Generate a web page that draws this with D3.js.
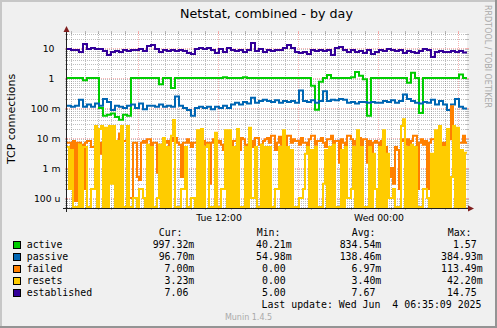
<!DOCTYPE html>
<html><head><meta charset="utf-8">
<script src="https://cdn.jsdelivr.net/npm/d3@7"></script>
<style>html,body{margin:0;padding:0;background:#F0F0F0}svg{display:block}</style>
</head><body><svg id="c" width="497" height="328"></svg>
<script>
const title = "Netstat, combined - by day";
const yTitle = "TCP connections";
const watermark = "RRDTOOL / TOBI OETIKER";
const footer = "Munin 1.4.5";
const lastUpdate = "Last update: Wed Jun  4 06:35:09 2025";
const seriesNames = ["active", "passive", "failed", "resets", "established"];
const seriesColors = ["#00CC00", "#0066B3", "#FF8000", "#FFCC00", "#330099"];
const colHeaders = ["Cur:", "Min:", "Avg:", "Max:"];
const curText = ["997.32m", "96.70m", "7.00m", "3.23m", "7.06"];
const minText = ["40.21m", "54.98m", "0.00", "0.00", "5.00"];
const avgText = ["834.54m", "138.46m", "6.97m", "3.40m", "7.67"];
const maxText = ["1.57", "384.93m", "113.49m", "42.20m", "14.75"];
const yTickValues = [1e-4, 1e-3, 1e-2, 1e-1, 1, 10];
const yTickLabels = ["100 u", "1 m", "10 m", "100 m", "1", "10"];
const xLabelTimes = [new Date(2025, 5, 3, 12, 0), new Date(2025, 5, 4, 0, 0)];
const xTickLabels = ["Tue 12:00", "Wed 00:00"];
const startTime = new Date(2025, 5, 3, 0, 40, 30);
const endTime = new Date(2025, 5, 4, 6, 40, 30);
const yMin = Math.pow(10, -13 / 3), yMax = Math.pow(10, 1.5);

// 100 samples over the 30 h window
const active = [1,1,1,1,0.84,1,1,1,0.1,0.055,
 0.06,0.065,0.05,0.0402,0.06,0.055,1,1,1,1,
 1,1,1,0.62,1,1,0.46,1,1,1,
 1,1,1,1,1,1,1,1,1,1.05,
 1,1,1,1,1.05,1,1,1,1,1,
 1,1,1,1,1,1,1,1,1,1,
 1,0.55,0.088,0.75,1,1.25,1,1,1,1,
 1,1.05,1.57,1.2,0.9,0.055,1,1,1,1,
 1,1,1,1,1,0.7,1.5,1,0.068,1,
 1,1,1,1,1,1,1,1,1.3,0.997];
const passive = [0.12,0.11,0.12,0.19,0.11,0.13,0.11,0.14,0.12,0.2,
 0.16,0.085,0.12,0.11,0.1,0.12,0.13,0.1,0.14,0.09,
 0.12,0.12,0.11,0.13,0.11,0.12,0.11,0.24,0.12,0.1,
 0.085,0.055,0.1,0.11,0.1,0.11,0.09,0.11,0.1,0.12,
 0.1,0.13,0.15,0.13,0.16,0.14,0.22,0.15,0.17,0.19,
 0.17,0.16,0.18,0.15,0.17,0.16,0.17,0.15,0.385,0.17,
 0.16,0.18,0.15,0.17,0.36,0.17,0.19,0.18,0.2,0.19,
 0.15,0.16,0.14,0.16,0.16,0.15,0.16,0.15,0.15,0.17,
 0.16,0.18,0.15,0.17,0.28,0.2,0.17,0.15,0.14,0.16,
 0.15,0.19,0.13,0.17,0.13,0.085,0.13,0.2,0.11,0.0967];
const established = [9.3,8.6,8.6,7.4,13.6,9.3,10,9.3,9.3,8,
 5.8,7.4,7.9,7.4,8.6,7.9,8.6,8.6,9.3,7.9,
 11.7,12.6,9.3,7.4,8.6,7.9,8.6,7.9,8.6,7.9,
 6.8,6.3,9.3,10,9.3,10,8.6,6.8,9.3,7.4,
 10,8.6,7.9,8.6,7.4,8.6,14.75,7.9,9.3,7.4,
 8.6,7.9,8.6,8.6,10,12.6,10,7.4,6.8,7.4,
 6.3,8.6,7.9,8.6,7.9,8.6,5.8,10,10.8,8.6,
 7.4,8.6,7.4,7.9,6.8,8.6,6.3,7.4,8.6,7.9,
 9.3,8.6,7.9,8.6,6.8,7.9,7.4,6.8,7.9,9.3,
 8.6,5,7.4,7.9,7.4,7.4,7.9,7.4,7.9,7.06];
// 200 samples over the 30 h window
const failed = [7e-3,7e-3,4e-3,8e-3,8e-5,7e-3,7e-3,6e-3,2e-4,7e-3,
 8e-3,8e-3,5e-3,5e-3,0.01,7e-3,7e-3,3e-3,3e-3,7e-3,
 0.01,0.01,7e-3,9e-3,5e-3,5e-3,0.014,0.014,8e-3,8e-3,
 0.012,1e-4,1e-4,7e-3,7e-3,5e-4,4e-4,7e-3,8e-3,7e-3,
 9e-3,9e-3,5e-3,7e-3,7e-3,7e-4,6e-3,6e-3,4e-4,7e-3,
 8e-3,3e-4,8e-3,0.01,0.01,7e-3,6e-3,5e-4,7e-3,7e-3,
 9e-3,7e-3,5e-3,7e-3,7e-3,6e-3,5e-4,5e-4,8e-3,6e-3,
 7e-3,3e-4,7e-3,9e-3,4e-4,7e-3,8e-3,6e-3,4e-3,7e-3,
 0.01,7e-3,5e-3,8e-3,8e-3,7e-3,4e-3,0.01,9e-3,6e-3,
 3e-3,8e-3,8e-3,5e-3,0.01,0.01,6e-3,1e-3,8e-3,9e-3,
 0.01,7e-3,0.012,0.012,4e-3,7e-3,0.011,6e-3,9e-3,5e-3,
 0.012,0.012,7e-3,9e-3,8e-3,8e-3,6e-3,0.01,7e-3,7e-3,
 5e-3,9e-3,0.012,0.012,6e-3,8e-3,8e-3,0.01,7e-3,5e-3,
 9e-3,9e-3,0.012,6e-3,8e-3,8e-3,1.5e-3,9e-3,7e-3,3e-4,
 0.012,0.012,9e-3,6e-3,8e-3,8e-3,0.01,5e-3,9e-3,9e-3,
 1.5e-3,8e-3,8e-4,7e-3,8e-3,7e-3,3e-4,8e-3,9e-3,5e-3,
 2e-3,5e-4,1e-3,3e-4,5e-3,4e-3,2e-4,8e-3,9e-3,6e-3,
 9e-3,6e-4,8e-3,0.012,0.012,2e-4,7e-3,9e-3,6e-3,8e-3,
 2e-4,7e-3,9e-3,9e-3,6e-3,8e-3,8e-3,7e-3,5e-4,7e-3,
 9e-3,9e-3,0.11349,4e-3,9e-3,5e-4,7e-3,7e-3,0.012,7e-3];
const resets = [5e-3,2e-4,4e-3,0,0,0,6e-3,0,5e-3,5e-3,
 0,0,2e-4,2e-4,0.025,0,0.02,0.025,0,0.022,
 0,0.025,3e-4,0.025,0,8e-3,0,0.025,0,0,
 0.025,0,0,1e-4,1e-4,0,2e-4,2e-4,1e-4,0,
 6e-3,0,5e-3,0,0,1e-4,6e-3,0,0.01,0,
 5e-3,0,0.012,0.04,0,0,0,2e-4,2e-4,5e-3,
 0,0,1e-4,1e-4,0,0.018,0,0.02,0,5e-3,
 6e-3,0,0,0,0.015,0,0,2e-4,2e-4,0.018,
 0,0.018,0,5e-3,0,0.02,0,0,0,5e-3,
 0,0.022,1e-4,1e-4,5e-3,0,0,6e-3,0,5e-3,
 0,5e-3,0,0,2e-4,2e-4,5e-3,0,0.018,0,
 5e-3,0,4e-3,0,0,0,1e-4,1e-4,2e-4,3e-3,
 5e-3,0,4e-3,0,5e-3,0,0,0,3e-4,4e-3,
 0,5e-3,0,6e-3,0,0,0,4e-3,0,5e-3,
 1e-4,1e-4,2e-4,5e-3,0,0.018,0,5e-3,0,0,
 0,5e-3,0,3e-3,2e-4,0,5e-3,0,0.018,0,
 3e-3,1e-4,1e-4,2e-4,0,0,0,0.025,0.0422,0,
 5e-3,0,6e-3,0,5e-3,0,0,0,2e-4,2e-4,
 1e-4,0,3e-3,0,0.018,0,0.025,0,5e-3,0,
 0.02,0,5e-4,0.025,0,0.022,0,4e-3,0,3.23e-3];

const seriesData = [active, passive, failed, resets, established];

const W = 497, H = 328, L = 67, R = 467, T = 33, B = 208;
const svg = d3.select("#c");
const sans = "'DejaVu Sans', sans-serif";
const mono = "'DejaVu Sans Mono', monospace";

svg.append("rect").attr("width", W).attr("height", H).attr("fill", "#F0F0F0");
svg.append("rect").attr("x", 0).attr("y", 0).attr("width", W).attr("height", 2).attr("fill", "#C7C7C7");
svg.append("rect").attr("x", 0).attr("y", 0).attr("width", 2).attr("height", H).attr("fill", "#C7C7C7");
svg.append("rect").attr("x", 0).attr("y", H - 2).attr("width", W).attr("height", 2).attr("fill", "#949494");
svg.append("rect").attr("x", W - 2).attr("y", 0).attr("width", 2).attr("height", H).attr("fill", "#949494");
svg.append("rect").attr("x", L).attr("y", T).attr("width", R - L).attr("height", B - T).attr("fill", "#FFFFFF");

const x = d3.scaleTime().domain([startTime, endTime]).range([L, R]);
const y = d3.scaleLog().domain([yMin, yMax]).range([B, T]).clamp(true);
const yPos = v => (v > 0 ? y(v) : B - 1);

const gridMinor = "rgba(128,128,128,0.5)";
const gridMajor = "rgba(245,128,128,0.6)";
const g = svg.append("g");

// horizontal grid
const minorY = [];
for (let d = -5; d <= 1; d++) for (let k = 2; k <= 9; k++) {
  const v = k * Math.pow(10, d);
  if (v > yMin && v < yMax) minorY.push(v);
}
minorY.forEach(v => {
  const yy = Math.round(y(v)) + 0.5;
  g.append("line").attr("x1", L).attr("x2", R).attr("y1", yy).attr("y2", yy)
    .attr("stroke", gridMinor).attr("stroke-dasharray", "1,1");
  g.append("line").attr("x1", L - 2).attr("x2", L + 1).attr("y1", yy).attr("y2", yy).attr("stroke", gridMinor);
  g.append("line").attr("x1", R - 1).attr("x2", R + 2).attr("y1", yy).attr("y2", yy).attr("stroke", gridMinor);
});
yTickValues.forEach(v => {
  const yy = Math.round(y(v)) + 0.5;
  g.append("line").attr("x1", L).attr("x2", R).attr("y1", yy).attr("y2", yy)
    .attr("stroke", gridMajor).attr("stroke-dasharray", "1,1");
  g.append("line").attr("x1", L - 2).attr("x2", L + 1).attr("y1", yy).attr("y2", yy).attr("stroke", gridMajor);
  g.append("line").attr("x1", R - 1).attr("x2", R + 2).attr("y1", yy).attr("y2", yy).attr("stroke", gridMajor);
});
// vertical grid
const hours = d3.timeHour.range(d3.timeHour.ceil(startTime), endTime);
hours.forEach(h => {
  const major = h.getHours() % 6 === 0;
  const col = major ? gridMajor : gridMinor;
  const xx = Math.round(x(h)) + 0.5;
  g.append("line").attr("x1", xx).attr("x2", xx).attr("y1", T).attr("y2", B)
    .attr("stroke", col).attr("stroke-dasharray", "1,1");
  g.append("line").attr("x1", xx).attr("x2", xx).attr("y1", B - 1).attr("y2", B + 2).attr("stroke", col);
  g.append("line").attr("x1", xx).attr("x2", xx).attr("y1", T - 2).attr("y2", T + 1).attr("stroke", col);
});

// series lines
svg.append("clipPath").attr("id", "clip").append("rect")
  .attr("x", L).attr("y", T).attr("width", R - L).attr("height", B - T);
const lines = svg.append("g").attr("clip-path", "url(#clip)");
seriesData.forEach((vals, si) => {
  const n = vals.length;
  const dt = (endTime - startTime) / n;
  const pts = vals.map((v, i) => [new Date(+startTime + i * dt), v]);
  pts.push([endTime, vals[n - 1]]);
  const line = d3.line().x(d => x(d[0])).y(d => yPos(d[1])).curve(d3.curveStepAfter);
  lines.append("path").attr("d", line(pts)).attr("fill", "none")
    .attr("stroke", seriesColors[si]).attr("stroke-width", 2);
});

// axes
svg.append("line").attr("x1", L - 4).attr("x2", R + 4).attr("y1", B + 0.5).attr("y2", B + 0.5).attr("stroke", "#1F1F1F");
svg.append("line").attr("x1", L - 0.5).attr("x2", L - 0.5).attr("y1", B + 4).attr("y2", T - 4).attr("stroke", "#1F1F1F");
svg.append("path").attr("d", `M${L - 0.5},${T - 7} L${L - 3.5},${T - 1} L${L + 2.5},${T - 1} Z`).attr("fill", "#801F1F");
svg.append("path").attr("d", `M${R + 7},${B + 0.5} L${R + 1},${B - 2.5} L${R + 1},${B + 3.5} Z`).attr("fill", "#801F1F");

// y tick labels
yTickValues.forEach((v, i) => {
  const lab = yTickLabels[i];
  const hasUnit = /[a-z]$/.test(lab);
  svg.append("text").attr("x", hasUnit ? 60.5 : 54.5).attr("y", Math.round(y(v)) + 3.5)
    .attr("text-anchor", "end").attr("font-family", sans).attr("font-size", "9.3px").attr("fill", "#000")
    .text(lab);
});
// x tick labels
xLabelTimes.forEach((t, i) => {
  svg.append("text").attr("x", x(t) + 1).attr("y", 221).attr("text-anchor", "middle")
    .attr("font-family", sans).attr("font-size", "9.3px").attr("fill", "#000").text(xTickLabels[i]);
});

// titles
svg.append("text").attr("x", 266.5).attr("y", 18).attr("text-anchor", "middle")
  .attr("font-family", sans).attr("font-size", "12.7px").attr("fill", "#000").text(title);
svg.append("text").attr("transform", "translate(15,119) rotate(-90)").attr("text-anchor", "middle")
  .attr("font-family", sans).attr("font-size", "11px").attr("fill", "#000").text(yTitle);
svg.append("text").attr("transform", "translate(485,5) rotate(90)").attr("text-anchor", "start")
  .attr("font-family", sans).attr("font-size", "8px").attr("fill", "#AAAAAA").text(watermark);

// legend
const headX = [158.7, 256.7, 351.7, 447.7];
const colRight = [194.3, 291.7, 381.3, 482.7];
const charW = 5.96;
colHeaders.forEach((h, i) => {
  svg.append("text").attr("x", headX[i]).attr("y", 236).attr("font-family", mono)
    .attr("font-size", "9.9px").attr("fill", "#000").text(h);
});
const cols = [curText, minText, avgText, maxText];
seriesNames.forEach((name, si) => {
  const by = 248 + si * 12;
  svg.append("rect").attr("x", 13.5).attr("y", by - 6.5).attr("width", 7).attr("height", 7)
    .attr("fill", seriesColors[si]).attr("stroke", "#000").attr("stroke-width", 1);
  svg.append("text").attr("x", 26.7).attr("y", by).attr("font-family", mono)
    .attr("font-size", "9.9px").attr("fill", "#000").text(name);
  cols.forEach((arr, ci) => {
    const s = arr[si];
    const hasUnit = /[a-z]$/.test(s);
    svg.append("text").attr("x", colRight[ci] - (hasUnit ? 0 : charW)).attr("y", by)
      .attr("text-anchor", "end").attr("font-family", mono).attr("font-size", "9.9px")
      .attr("fill", "#000").text(s);
  });
});
svg.append("text").attr("x", 261.5).attr("y", 308.3).attr("font-family", mono)
  .attr("font-size", "9.9px").attr("fill", "#000").style("white-space", "pre").text(lastUpdate);
svg.append("text").attr("x", 248.5).attr("y", 320).attr("text-anchor", "middle")
  .attr("font-family", sans).attr("font-size", "8px").attr("fill", "#AAAAAA").text(footer);
</script>
</body></html>
